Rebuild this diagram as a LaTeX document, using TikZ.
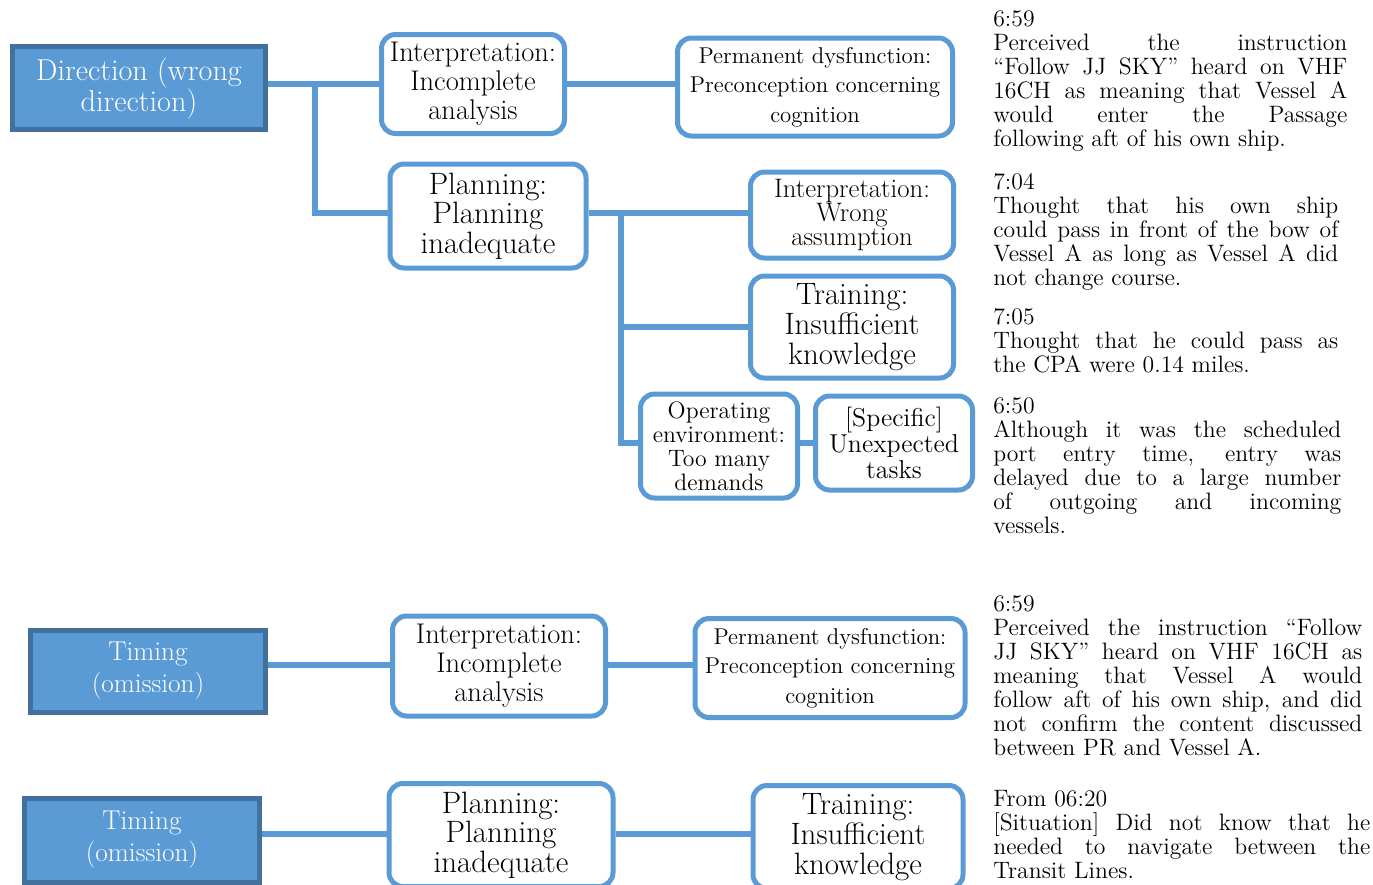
\documentclass[tikz,border=0pt]{standalone}
\usepackage{fontspec}
\usetikzlibrary{calc, backgrounds}
\definecolor{linkblue}{HTML}{5B9BD5}
\definecolor{edgeblue}{HTML}{41719C}
\newcommand{\fsz}[2]{\fontsize{#1}{#2}\selectfont}
\tolerance=10000
\hbadness=10000

\begin{document}
\begin{tikzpicture}[
    x=0.2mm, y=-0.2mm,
    every node/.style={inner sep=1pt},
    errorbox/.style={draw=edgeblue, fill=linkblue, line width=1mm, text=white, align=center},
    factorbox/.style={draw=linkblue, fill=white, line width=1mm, rounded corners=2.8mm, align=center},
    link/.style={draw=linkblue, line width=1.1mm},
    notetext/.style={anchor=north west, inner sep=0pt, align=justify, font=\fsz{13.5}{13.7}},
]

% Background
\useasboundingbox (0,0) rectangle (1373,884);

% === Direction (wrong direction) ===
\node[errorbox, minimum width=50.6mm, minimum height=16.6mm, font=\fsz{17.2}{17.6}]
      (dir) at (139,88) {Direction (wrong\\direction)};

\node[factorbox, minimum width=36.6mm, minimum height=19.8mm, font=\fsz{16.2}{16.5}]
      (i1) at (473,84) {Interpretation:\\Incomplete\\analysis};

\node[factorbox, minimum width=55mm, minimum height=19.6mm, font=\fsz{13}{16.8}]
      (p1) at (815,87) {Permanent dysfunction:\\Preconception concerning\\cognition};

\node[factorbox, minimum width=39.2mm, minimum height=20.8mm, font=\fsz{17.6}{16.9}]
      (pl1) at (488,216) {Planning:\\Planning\\inadequate};

\node[factorbox, minimum width=40.6mm, minimum height=17.2mm, font=\fsz{15.2}{13.9}]
      (i2) at (852,215) {Interpretation:\\Wrong\\assumption};

\node[factorbox, minimum width=40.6mm, minimum height=20.4mm, font=\fsz{17.6}{16.9}]
      (t1) at (852,327) {Training:\\Insufficient\\knowledge};

\node[factorbox, minimum width=31.4mm, minimum height=20.8mm, font=\fsz{13.5}{13.7}]
      (o1) at (719,446) {Operating\\environment:\\Too many\\demands};

\node[factorbox, minimum width=31.4mm, minimum height=18.8mm, font=\fsz{14.7}{14.8}]
      (s1) at (894,443) {[Specific]\\Unexpected\\tasks};

% === Timing (omission), first ===
\node[errorbox, minimum width=46.8mm, minimum height=16.4mm, font=\fsz{15.5}{18.2}]
      (tm1) at (148,671) {Timing\\(omission)};

\node[factorbox, minimum width=42.6mm, minimum height=20mm, font=\fsz{16.2}{16.5}]
      (i3) at (499,666) {Interpretation:\\Incomplete\\analysis};

\node[factorbox, minimum width=54mm, minimum height=19.8mm, font=\fsz{13}{16.8}]
      (p2) at (830,668) {Permanent dysfunction:\\Preconception concerning\\cognition};

% === Timing (omission), second ===
\node[errorbox, minimum width=46.8mm, minimum height=16.8mm, font=\fsz{15.5}{18.2}]
      (tm2) at (142,840) {Timing\\(omission)};

\node[factorbox, minimum width=44.8mm, minimum height=20.6mm, font=\fsz{17.6}{16.9}]
      (pl2) at (501,835) {Planning:\\Planning\\inadequate};

\node[factorbox, minimum width=42mm, minimum height=20.6mm, font=\fsz{17.6}{16.9}]
      (t2) at (858,837) {Training:\\Insufficient\\knowledge};

% Connectors
\coordinate (j1) at (315,84);
\coordinate (j2) at (621,211);
\begin{scope}[on background layer]
\fill[white] (0,0) rectangle (1373,884);
\draw[link] (dir.east |- i1.west) -- (i1.west);
\draw[link] (j1) |- (pl1.west |- 0,213);
\draw[link] (i1.east) -- (p1.west |- i1.east);
\draw[link] (pl1.east |- 0,213) -- (i2.west |- 0,213);
\draw[link] (j2) |- (o1.west |- 0,443);
\draw[link] (j2 |- t1.west) -- (t1.west);
\draw[link] (o1.east |- 0,443) -- (s1.west |- 0,443);
\draw[link] (tm1.east |- 0,665) -- (i3.west |- 0,665);
\draw[link] (i3.east |- 0,665) -- (p2.west |- 0,665);
\draw[link] (tm2.east |- 0,834) -- (pl2.west |- 0,834);
\draw[link] (pl2.east |- 0,834) -- (t2.west |- 0,834);
\end{scope}

% === Notes ===
\node[notetext, text width=70.8mm] (n1) at (993,10)
      {6:59\\Perceived the instruction\linebreak
       “Follow JJ SKY” heard on VHF\linebreak
       16CH as meaning that Vessel A\linebreak
       would enter the Passage\linebreak
       following aft of his own ship.};

\node[notetext, text width=69mm] (n2) at (993,173)
      {7:04\\Thought that his own ship\linebreak
       could pass in front of the bow of\linebreak
       Vessel A as long as Vessel A did\linebreak
       not change course.};

\node[notetext, text width=69mm] (n3) at (993,308)
      {7:05\\Thought that he could pass as\linebreak
       the CPA were 0.14 miles.};

\node[notetext, text width=69.6mm] (n4) at (993,397)
      {6:50\\Although it was the scheduled\linebreak
       port entry time, entry was\linebreak
       delayed due to a large number\linebreak
       of outgoing and incoming\linebreak
       vessels.};

\node[notetext, text width=73.8mm] (n5) at (993,595)
      {6:59\\Perceived the instruction “Follow\linebreak
       JJ SKY” heard on VHF 16CH as\linebreak
       meaning that Vessel A would\linebreak
       follow aft of his own ship, and did\linebreak
       not confirm the content discussed\linebreak
       between PR and Vessel A.};

\node[notetext, text width=75.4mm] (n6) at (993,790)
      {From 06:20\\{[Situation]} Did not know that he\linebreak
       needed to navigate between the\linebreak
       Transit Lines.};

\end{tikzpicture}
\end{document}
